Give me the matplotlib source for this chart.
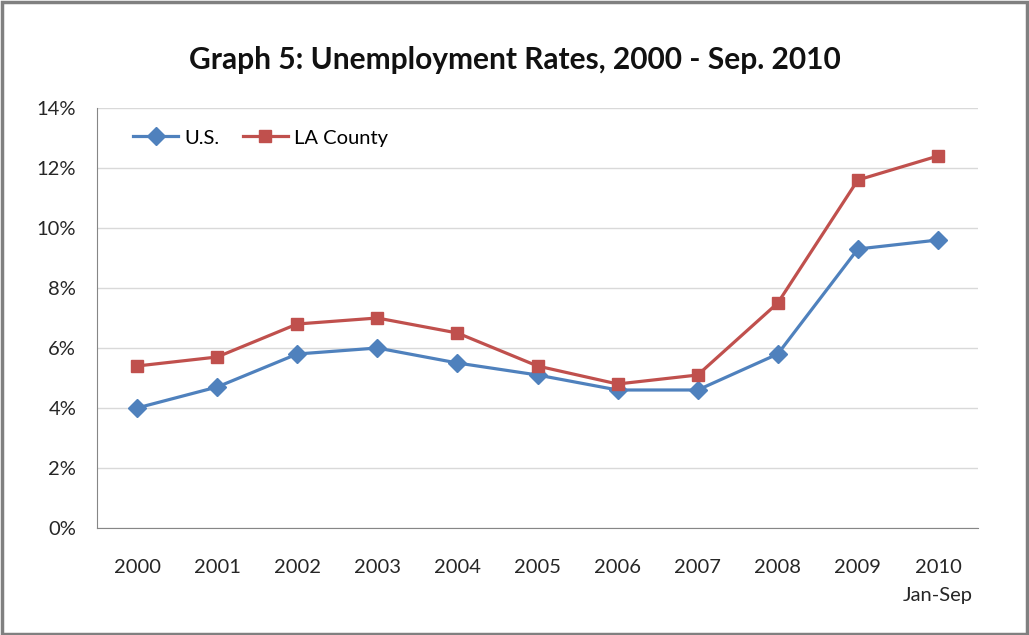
import matplotlib
matplotlib.use("Agg")
import matplotlib.pyplot as plt
from matplotlib.patches import Rectangle

categories = ["2000", "2001", "2002", "2003", "2004", "2005", "2006", "2007", "2008", "2009", "2010\nJan-Sep"]
us = [4.0, 4.7, 5.8, 6.0, 5.5, 5.1, 4.6, 4.6, 5.8, 9.3, 9.6]
la = [5.4, 5.7, 6.8, 7.0, 6.5, 5.4, 4.8, 5.1, 7.5, 11.6, 12.4]
yticks = [0, 2, 4, 6, 8, 10, 12, 14]

plt.rcParams['font.family'] = ['Lato', 'DejaVu Sans']

fig = plt.figure(figsize=(10.29, 6.35), dpi=100)
fig.patches.append(Rectangle((0.002, 0.002), 0.996, 0.995, transform=fig.transFigure,
                             fill=False, edgecolor='#808080', linewidth=2.5))
ax = fig.add_axes([97/1029, 1-528/635, 881/1029, 420/635])

x = list(range(len(categories)))
ax.plot(x, us, color='#4F81BD', linewidth=2.3, marker='D', markersize=9.5, label='U.S.')
ax.plot(x, la, color='#C0504D', linewidth=2.3, marker='s', markersize=8.5, label='LA County')

ax.set_xlim(-0.5, len(categories) - 0.5)
ax.set_ylim(0, 14)
ax.set_yticks(yticks)
ax.set_yticklabels([f"{v}%" for v in yticks], fontsize=14.5, color='#262626')
ax.set_xticks(x)
ax.set_xticklabels(categories, fontsize=14.5, color='#262626', linespacing=1.85)
ax.tick_params(axis='x', length=0, pad=22)
ax.tick_params(axis='y', length=0, pad=15)
ax.grid(axis='y', color='#D9D9D9', linewidth=1)
ax.set_axisbelow(True)
for s in ['top', 'right']:
    ax.spines[s].set_visible(False)
ax.spines['left'].set_color('#868686')
ax.spines['bottom'].set_color('#868686')

leg = ax.legend(loc='center left', bbox_to_anchor=((133-97)/881, (528-138)/420), ncol=2, frameon=False,
                fontsize=14.5, handlelength=2.25, columnspacing=1.15, handletextpad=0.3,
                borderaxespad=0, borderpad=0)

fig.text(0.5, 1-60/635, "Graph 5: Unemployment Rates, 2000 - Sep. 2010", ha='center', va='center',
         fontsize=21.5, fontweight='bold', color='#111111')

fig.savefig("out.png", dpi=100)
